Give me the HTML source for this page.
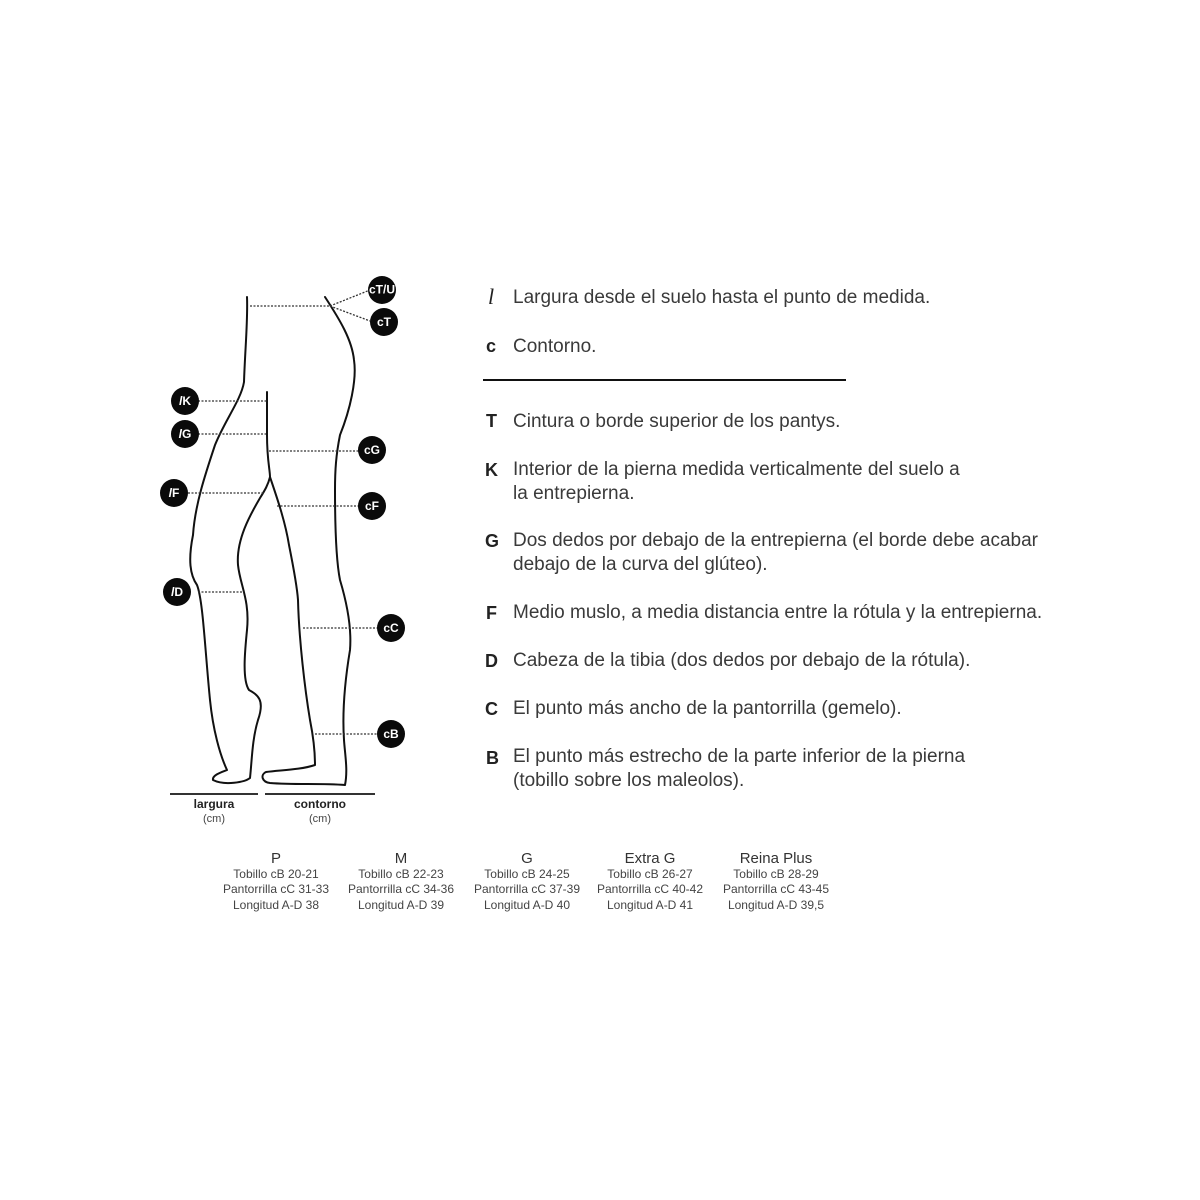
<!DOCTYPE html>
<html><head><meta charset="utf-8"><style>
html,body{margin:0;padding:0;background:#fff;}
svg{display:block;font-family:"Liberation Sans",sans-serif;}
.t{font-size:19px;fill:#3a3a3a;}
.k{font-size:18px;font-weight:bold;fill:#222;}
.dot{stroke:#333;stroke-width:1.3;stroke-dasharray:2 1.5;fill:none;}
.lg{fill:none;stroke:#111;stroke-width:2;stroke-linecap:round;stroke-linejoin:round;}
.cl{fill:#0a0a0a;}
.cb{fill:#fff;font-size:12px;font-weight:bold;text-anchor:middle;}
.sz{font-size:12px;fill:#444;text-anchor:middle;}
.sh{font-size:15px;fill:#333;text-anchor:middle;}
</style></head><body>
<svg width="1200" height="1200" viewBox="0 0 1200 1200">
<path class="lg" d="M247,297 C248,320 245,350 244,382 C241,400 225,420 215,445 C205,475 195,505 193,535 C188,560 190,575 197,585 C203,600 205,650 210,700 C213,730 220,755 227,770 C222,772 212,775 213,780 C225,786 245,782 250,778 C252,760 252,740 258,720 C265,700 258,695 249,690 C242,680 245,650 247,630 C250,600 240,585 238,565 C236,540 250,515 260,498 C265,490 268,485 270,477"/>
<path class="lg" d="M267,392 L267,435 C267,460 270,470 270,477 C276,495 285,520 289,545 C292,560 297,585 298,600 C299,640 305,690 310,720 C314,740 315,755 315,765 C300,770 280,770 266,772 C260,775 262,782 270,783 C295,785 320,783 345,785 C348,770 345,755 344,740 C342,710 345,680 350,650 C352,625 346,600 340,580 C336,560 335,520 335,490 C335,470 336,455 340,435 C350,410 357,380 354,360 C352,340 340,320 325,297"/>
<path class="dot" d="M250,306 L330,306 M330,306 L370,290 M330,306 L370,321"/>
<path class="dot" d="M198,401 L267,401 M198,434 L266,434 M269,451 L360,451 M188,493 L264,493 M277,506 L360,506 M198,592 L244,592 M303,628 L380,628 M315,734 L380,734"/>
<g>
<circle class="cl" cx="382" cy="290" r="14"/><text class="cb" x="382" y="293.5" font-size="9.5">cT/U</text>
<circle class="cl" cx="384" cy="322" r="14"/><text class="cb" x="384" y="326">cT</text>
<circle class="cl" cx="185" cy="401" r="14"/><text class="cb" x="185" y="405"><tspan font-style="italic">l</tspan>K</text>
<circle class="cl" cx="185" cy="434" r="14"/><text class="cb" x="185" y="438"><tspan font-style="italic">l</tspan>G</text>
<circle class="cl" cx="372" cy="450" r="14"/><text class="cb" x="372" y="454">cG</text>
<circle class="cl" cx="174" cy="493" r="14"/><text class="cb" x="174" y="497"><tspan font-style="italic">l</tspan>F</text>
<circle class="cl" cx="372" cy="506" r="14"/><text class="cb" x="372" y="510">cF</text>
<circle class="cl" cx="177" cy="592" r="14"/><text class="cb" x="177" y="596"><tspan font-style="italic">l</tspan>D</text>
<circle class="cl" cx="391" cy="628" r="14"/><text class="cb" x="391" y="632">cC</text>
<circle class="cl" cx="391" cy="734" r="14"/><text class="cb" x="391" y="738">cB</text>
</g>
<line x1="170" y1="794" x2="258" y2="794" stroke="#333" stroke-width="2"/>
<line x1="265" y1="794" x2="375" y2="794" stroke="#333" stroke-width="2"/>
<text x="214" y="808" font-size="12" font-weight="bold" fill="#222" text-anchor="middle">largura</text>
<text x="214" y="822" font-size="11" fill="#444" text-anchor="middle">(cm)</text>
<text x="320" y="808" font-size="12" font-weight="bold" fill="#222" text-anchor="middle">contorno</text>
<text x="320" y="822" font-size="11" fill="#444" text-anchor="middle">(cm)</text>
<text x="488" y="304" font-family="Liberation Serif" font-style="italic" font-size="22" fill="#222">l</text>
<text class="t" x="513" y="303">Largura desde el suelo hasta el punto de medida.</text>
<text class="k" x="486" y="352" font-size="16">c</text>
<text class="t" x="513" y="352">Contorno.</text>
<line x1="483" y1="380" x2="846" y2="380" stroke="#111" stroke-width="2"/>
<text class="k" x="486" y="427">T</text><text class="t" x="513" y="427">Cintura o borde superior de los pantys.</text>
<text class="k" x="485" y="476">K</text><text class="t" x="513" y="475">Interior de la pierna medida verticalmente del suelo a</text>
<text class="t" x="513" y="499">la entrepierna.</text>
<text class="k" x="485" y="547">G</text><text class="t" x="513" y="546">Dos dedos por debajo de la entrepierna (el borde debe acabar</text>
<text class="t" x="513" y="570">debajo de la curva del glúteo).</text>
<text class="k" x="486" y="619">F</text><text class="t" x="513" y="618">Medio muslo, a media distancia entre la rótula y la entrepierna.</text>
<text class="k" x="485" y="667">D</text><text class="t" x="513" y="666">Cabeza de la tibia (dos dedos por debajo de la rótula).</text>
<text class="k" x="485" y="715">C</text><text class="t" x="513" y="714">El punto más ancho de la pantorrilla (gemelo).</text>
<text class="k" x="486" y="764">B</text><text class="t" x="513" y="762">El punto más estrecho de la parte inferior de la pierna</text>
<text class="t" x="513" y="786">(tobillo sobre los maleolos).</text>
<g>
<text class="sh" x="276" y="863">P</text>
<text class="sz" x="276" y="878">Tobillo cB 20-21</text><text class="sz" x="276" y="893">Pantorrilla cC 31-33</text><text class="sz" x="276" y="909">Longitud A-D 38</text>
<text class="sh" x="401" y="863">M</text>
<text class="sz" x="401" y="878">Tobillo cB 22-23</text><text class="sz" x="401" y="893">Pantorrilla cC 34-36</text><text class="sz" x="401" y="909">Longitud A-D 39</text>
<text class="sh" x="527" y="863">G</text>
<text class="sz" x="527" y="878">Tobillo cB 24-25</text><text class="sz" x="527" y="893">Pantorrilla cC 37-39</text><text class="sz" x="527" y="909">Longitud A-D 40</text>
<text class="sh" x="650" y="863">Extra G</text>
<text class="sz" x="650" y="878">Tobillo cB 26-27</text><text class="sz" x="650" y="893">Pantorrilla cC 40-42</text><text class="sz" x="650" y="909">Longitud A-D 41</text>
<text class="sh" x="776" y="863">Reina Plus</text>
<text class="sz" x="776" y="878">Tobillo cB 28-29</text><text class="sz" x="776" y="893">Pantorrilla cC 43-45</text><text class="sz" x="776" y="909">Longitud A-D 39,5</text>
</g>
</svg>
</body></html>
